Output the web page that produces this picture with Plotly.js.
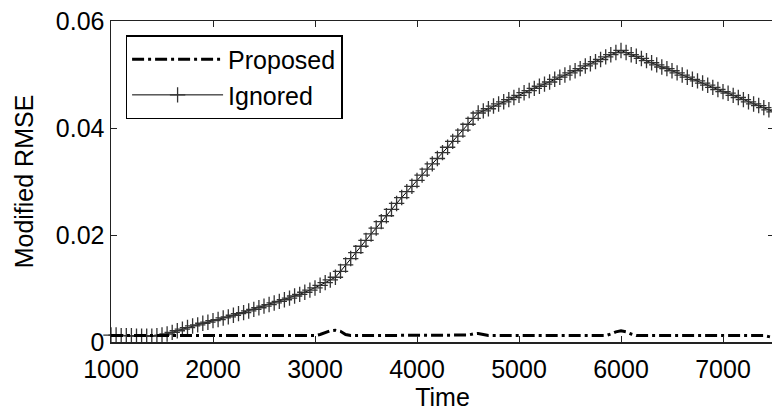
<!DOCTYPE html>
<html>
<head>
<meta charset="utf-8">
<script src="https://cdn.plot.ly/plotly-3.0.1.min.js"></script>
<style>
html,body{margin:0;padding:0;overflow:hidden;background:#fff;}
#chart{width:776px;height:413px;}
</style>
</head>
<body>
<div id="chart"></div>
<script>
// Time grid (sample instants, step 50)
const times = [];
for (let t = 1000; t <= 7500; t += 50) times.push(t);

// Ignored series
const ignored = [
  0.0013,0.0013,0.0012,0.0012,0.0012,0.0011,0.0011,0.0011,0.0011,0.0012,0.0013,0.0015,
  0.0018,0.0021,0.0024,0.0027,0.0030,0.0032,0.0035,0.0037,0.0040,0.0042,0.0045,0.0047,
  0.0050,0.0053,0.0055,0.0058,0.0061,0.0064,0.0067,0.0070,0.0073,0.0076,0.0079,0.0082,
  0.0086,0.0089,0.0093,0.0097,0.0101,0.0106,0.0111,0.0116,0.0121,
  0.0132,0.0144,0.0156,0.0167,0.0179,0.0190,0.0202,0.0213,0.0225,0.0236,0.0248,0.0259,
  0.0270,0.0281,0.0291,0.0302,0.0312,0.0323,0.0333,0.0343,0.0354,0.0364,0.0375,0.0385,
  0.0396,0.0407,0.0418,0.0428,
  0.0432,0.0436,0.0441,0.0445,0.0449,0.0453,0.0457,0.0461,0.0466,0.0470,0.0474,0.0478,
  0.0482,0.0486,0.0491,0.0495,0.0499,0.0503,0.0507,0.0511,0.0516,0.0520,0.0524,0.0528,
  0.0533,0.0537,0.0541,0.0545,
  0.0541,0.0537,0.0534,0.0530,0.0526,0.0522,0.0518,0.0514,0.0511,0.0507,0.0503,0.0499,
  0.0495,0.0491,0.0488,0.0484,0.0480,0.0476,0.0472,0.0468,0.0465,0.0461,0.0457,0.0453,
  0.0449,0.0445,0.0442,0.0438,0.0434,0.0430
];

// Proposed series
const proposed = [
  0.0012,0.0012,0.0012,0.0011,0.0011,0.0011,0.0011,0.0012,0.0012,0.0012,0.0012,0.0012,
  0.0012,0.0012,0.0012,0.0012,0.0012,0.0012,0.0012,0.0012,0.0012,0.0012,0.0012,0.0012,
  0.0012,0.0012,0.0012,0.0012,0.0012,0.0012,0.0012,0.0012,0.0012,0.0012,0.0012,0.0012,
  0.0012,0.0012,0.0012,0.0012,0.0012,0.0014,0.0018,0.0021,0.0022,
  0.0020,0.0014,0.0012,0.0012,0.0012,0.0012,0.0012,0.0012,0.0012,0.0012,0.0012,0.0012,
  0.0012,0.0012,0.0012,0.0012,0.0012,0.0012,0.0012,0.0012,0.0012,0.0012,0.0012,0.0012,
  0.0012,0.0013,0.0015,0.0016,
  0.0014,0.0012,0.0012,0.0012,0.0012,0.0012,0.0012,0.0012,0.0012,0.0012,0.0012,0.0012,
  0.0012,0.0012,0.0012,0.0012,0.0012,0.0012,0.0012,0.0012,0.0012,0.0012,0.0012,0.0012,
  0.0012,0.0015,0.0019,0.0021,
  0.0019,0.0015,0.0012,0.0012,0.0012,0.0012,0.0012,0.0012,0.0012,0.0012,0.0012,0.0012,
  0.0012,0.0012,0.0012,0.0012,0.0012,0.0012,0.0012,0.0012,0.0012,0.0012,0.0012,0.0012,
  0.0012,0.0012,0.0012,0.0012,0.0010,0.0008
];

const seriesNames = ['Proposed', 'Ignored'];
const xTicks = [1000, 2000, 3000, 4000, 5000, 6000, 7000];
const yTicks = [0, 0.02, 0.04, 0.06];
const yTickText = ['0', '0.02', '0.04', '0.06'];

const FONT = '"Liberation Sans", Arial, Helvetica, sans-serif';

const traces = [
  {
    x: times, y: ignored, name: seriesNames[1], type: 'scatter', mode: 'lines+markers',
    line: {color: '#000', width: 1},
    marker: {symbol: 'cross-thin-open', size: 11, color: '#333', line: {color: '#333', width: 1.3}},
    cliponaxis: false, legendrank: 2
  },
  {
    x: times, y: proposed, name: seriesNames[0], type: 'scatter', mode: 'lines',
    line: {color: '#000', width: 3, dash: '12px,4px,3px,4px'},
    cliponaxis: false, legendrank: 1
  }
];

const layout = {
  width: 776, height: 413,
  margin: {l: 111, r: 2, t: 21, b: 71},
  paper_bgcolor: '#fff', plot_bgcolor: '#fff',
  font: {family: FONT, size: 25, color: '#000'},
  showlegend: true,
  legend: {
    x: 0.022, y: 0.956, xanchor: 'left', yanchor: 'top',
    bgcolor: '#fff', bordercolor: '#000', borderwidth: 1.5,
    font: {family: FONT, size: 25, color: '#000'},
    itemwidth: 91, tracegroupgap: 0
  },
  xaxis: {
    range: [1000, 7500], tickvals: xTicks, ticktext: xTicks.map(String),
    ticks: 'inside', ticklen: 6, tickcolor: '#222', tickwidth: 1,
    showline: true, linecolor: '#222', linewidth: 1.5, mirror: 'ticks',
    showgrid: false, zeroline: false, ticklabelstandoff: 4,
    tickfont: {family: FONT, size: 25, color: '#000'},
    title: {text: 'Time', font: {family: FONT, size: 25, color: '#000'}, standoff: 7}
  },
  yaxis: {
    range: [0, 0.06], tickvals: yTicks, ticktext: yTickText,
    ticks: 'inside', ticklen: 6, tickcolor: '#222', tickwidth: 1,
    showline: true, linecolor: '#222', linewidth: 1.5, mirror: 'ticks',
    showgrid: false, zeroline: false,
    tickfont: {family: FONT, size: 25, color: '#000'},
    title: {text: 'Modified RMSE', font: {family: FONT, size: 25, color: '#000'}, standoff: 15}
  }
};

Plotly.newPlot('chart', traces, layout, {displayModeBar: false, staticPlot: true});
</script>
</body>
</html>
